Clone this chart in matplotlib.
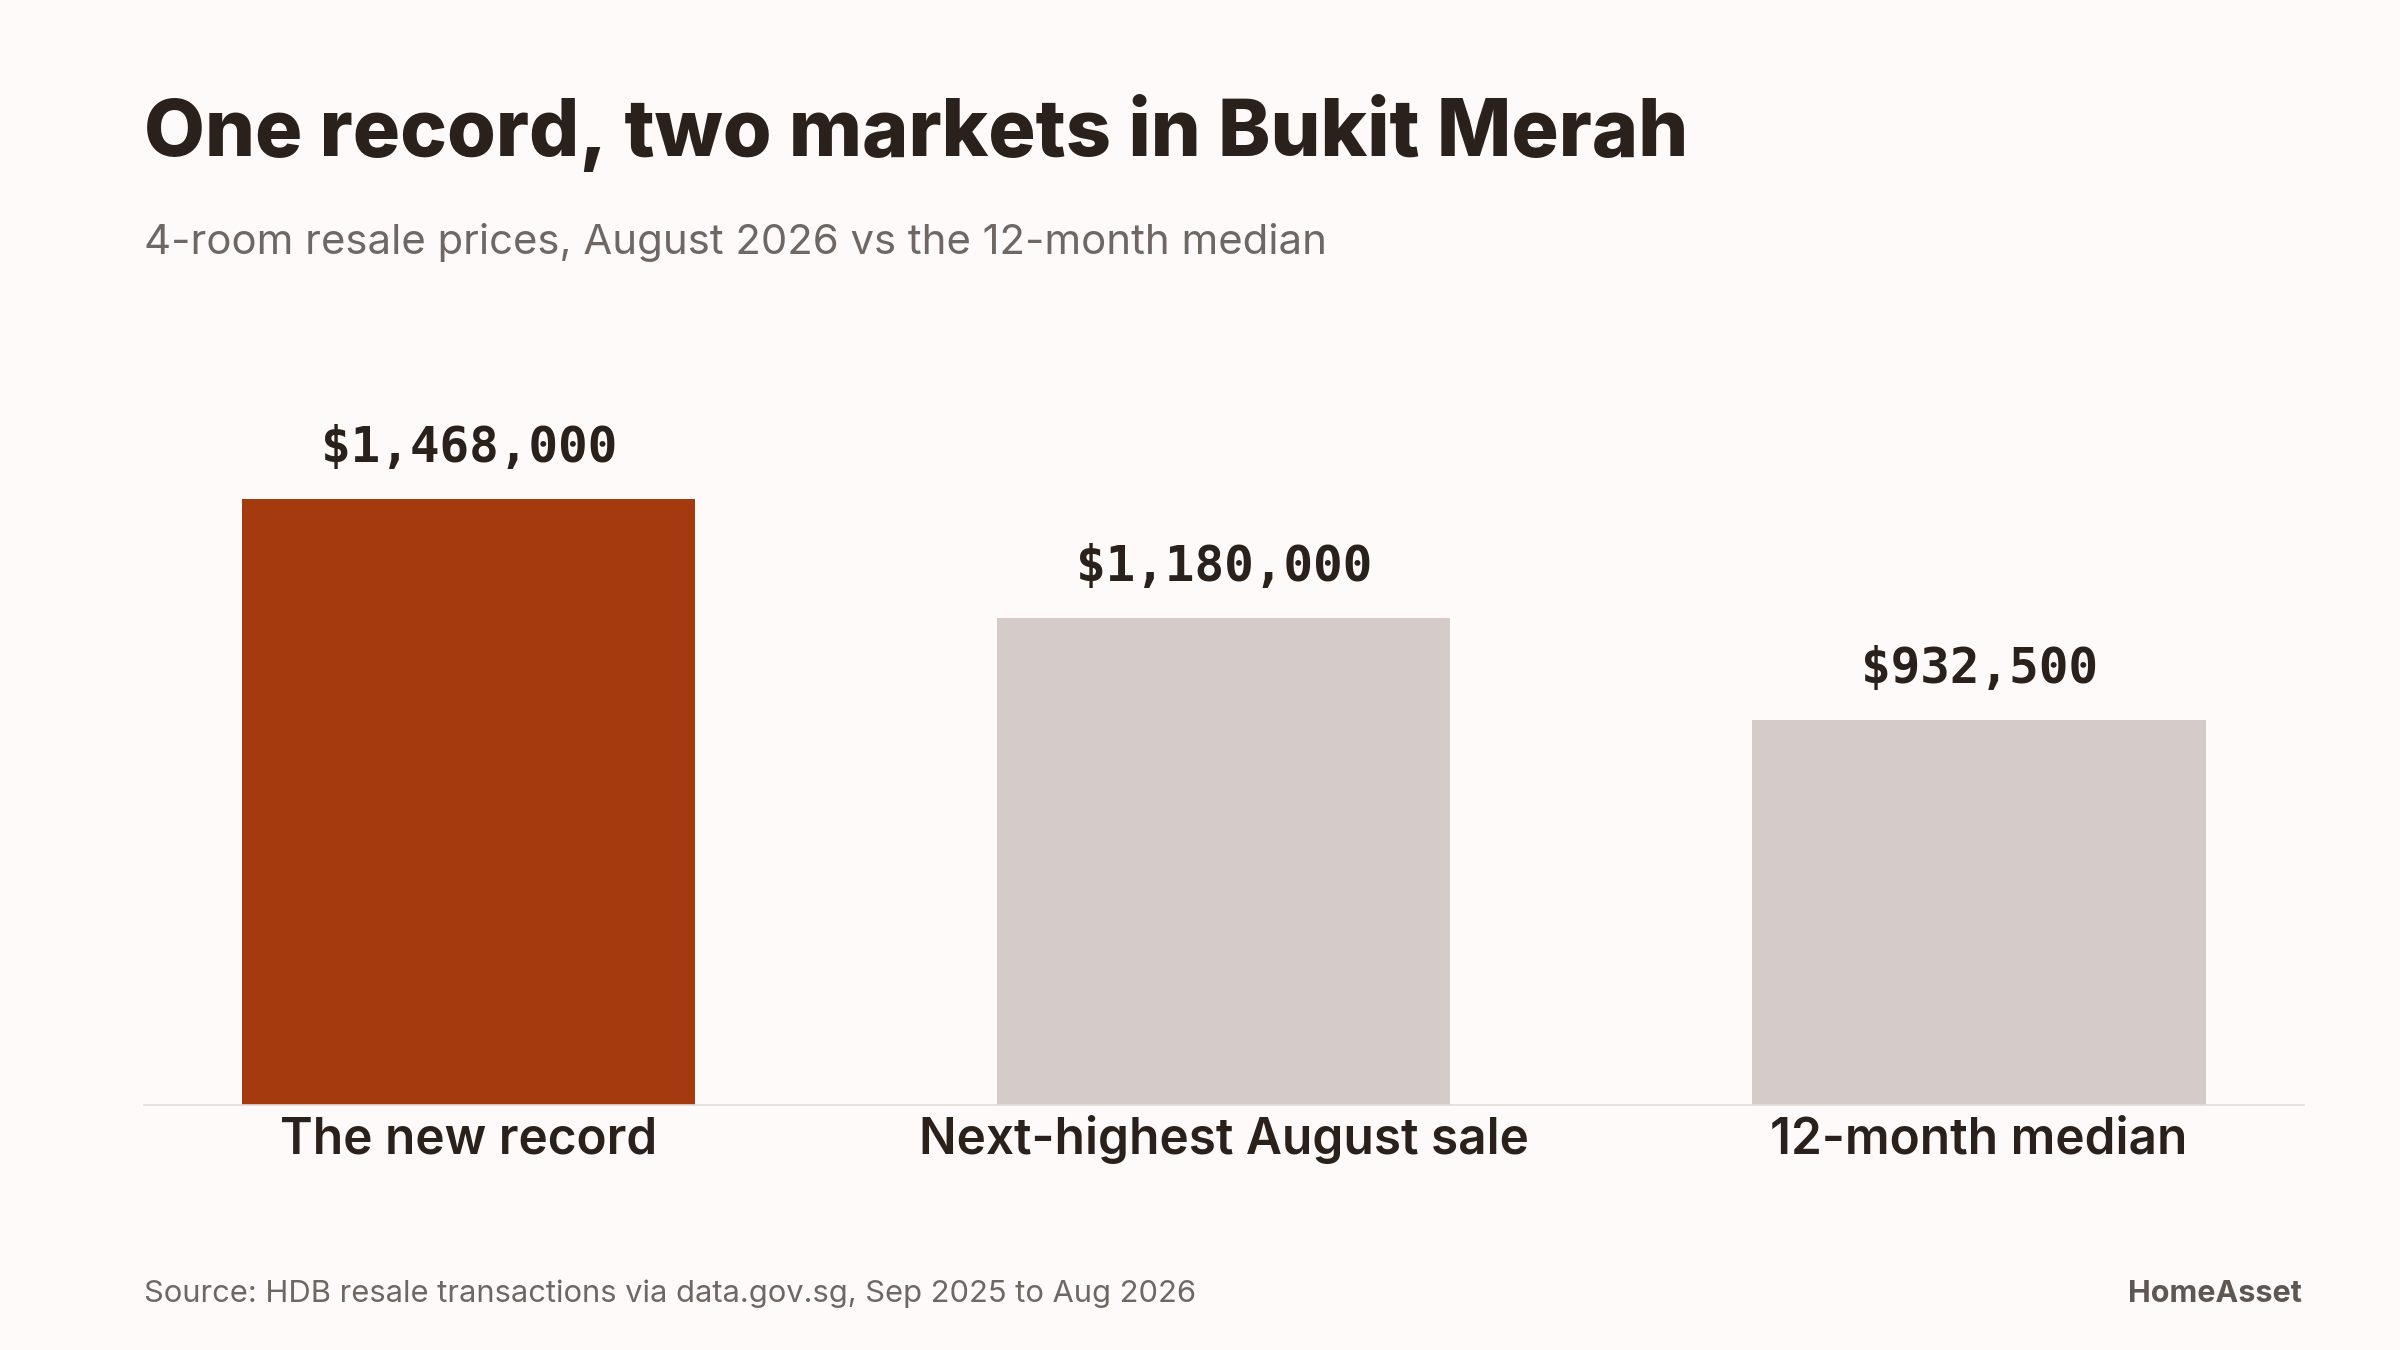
import matplotlib
matplotlib.use("Agg")
import matplotlib.pyplot as plt

# ---- data ----
categories = ["The new record", "Next-highest August sale", "12-month median"]
prices = [1468000, 1180000, 932500]
value_labels = ["$1,468,000", "$1,180,000", "$932,500"]
bar_colors = ["#a53a0e", "#d5ccc9", "#d5ccc9"]
title = "One record, two markets in Bukit Merah"
subtitle = "4-room resale prices, August 2026 vs the 12-month median"
source = "Source: HDB resale transactions via data.gov.sg, Sep 2025 to Aug 2026"
brand = "HomeAsset"

W, H, DPI = 2400, 1350, 100
BG = "#fdfaf9"
DARK = "#2a201c"
GREY = "#6e6764"

fig = plt.figure(figsize=(W / DPI, H / DPI), dpi=DPI, facecolor=BG)
renderer = fig.canvas.get_renderer()


def fit(t, target_w):
    bb = t.get_window_extent(renderer=renderer)
    t.set_fontsize(t.get_fontsize() * target_w / bb.width)


def fy(px):
    return 1 - px / H


def fx(px):
    return px / W


# ---- titles ----
t = fig.text(fx(144), fy(156), title, fontsize=60, fontweight="heavy",
             family=["Inter", "DejaVu Sans"], color=DARK, va="baseline", ha="left")
fit(t, 1546)
s = fig.text(fx(144), fy(254), subtitle, fontsize=30,
             family=["Inter", "DejaVu Sans"], color=GREY, va="baseline", ha="left")
fit(s, 1182)

# ---- axes ----
ax = fig.add_axes([0.06, 0.1815, 0.8999, 0.4893])
ax.set_facecolor(BG)
x = list(range(len(categories)))
ax.bar(x, prices, width=0.6, color=bar_colors, zorder=2)
ax.set_xlim(-0.43, 2.43)
ax.set_ylim(0, 1.6e6)
for sp in ["top", "left", "right"]:
    ax.spines[sp].set_visible(False)
ax.spines["bottom"].set_color("#e3dcd9")
ax.spines["bottom"].set_linewidth(1.2)
ax.set_xticks([])
ax.set_yticks([])

# value labels
vl = []
for i, (v, lab) in enumerate(zip(prices, value_labels)):
    a = ax.annotate(lab, (i, v), xytext=(0, 26.6), textcoords="offset points",
                    ha="center", va="baseline", family="DejaVu Sans Mono",
                    fontweight="bold", fontsize=36, color=DARK)
    vl.append(a)
bb = vl[0].get_window_extent(renderer=renderer)
vs = vl[0].get_fontsize() * 297 / bb.width
for a in vl:
    a.set_fontsize(vs)

# category labels
cl = []
for i, c in enumerate(categories):
    a = ax.annotate(c, (i, 0), xytext=(0, -49 * 72 / DPI), textcoords="offset points",
                    ha="center", va="baseline", family=["Inter", "DejaVu Sans"],
                    fontweight="semibold", fontsize=30, color=DARK)
    cl.append(a)
bb = cl[0].get_window_extent(renderer=renderer)
cs = cl[0].get_fontsize() * 376.5 / bb.width
for a in cl:
    a.set_fontsize(cs)

# ---- footer ----
src = fig.text(fx(144), fy(1302), source, fontsize=24,
               family=["Inter", "DejaVu Sans"], color=GREY, va="baseline", ha="left")
fit(src, 1053)
br = fig.text(fx(2302), fy(1302), brand, fontsize=24, fontweight="bold",
              family=["Inter", "DejaVu Sans"], color="#5e5652", va="baseline", ha="right")
fit(br, 174)

fig.savefig("out.png", dpi=DPI, facecolor=BG)
